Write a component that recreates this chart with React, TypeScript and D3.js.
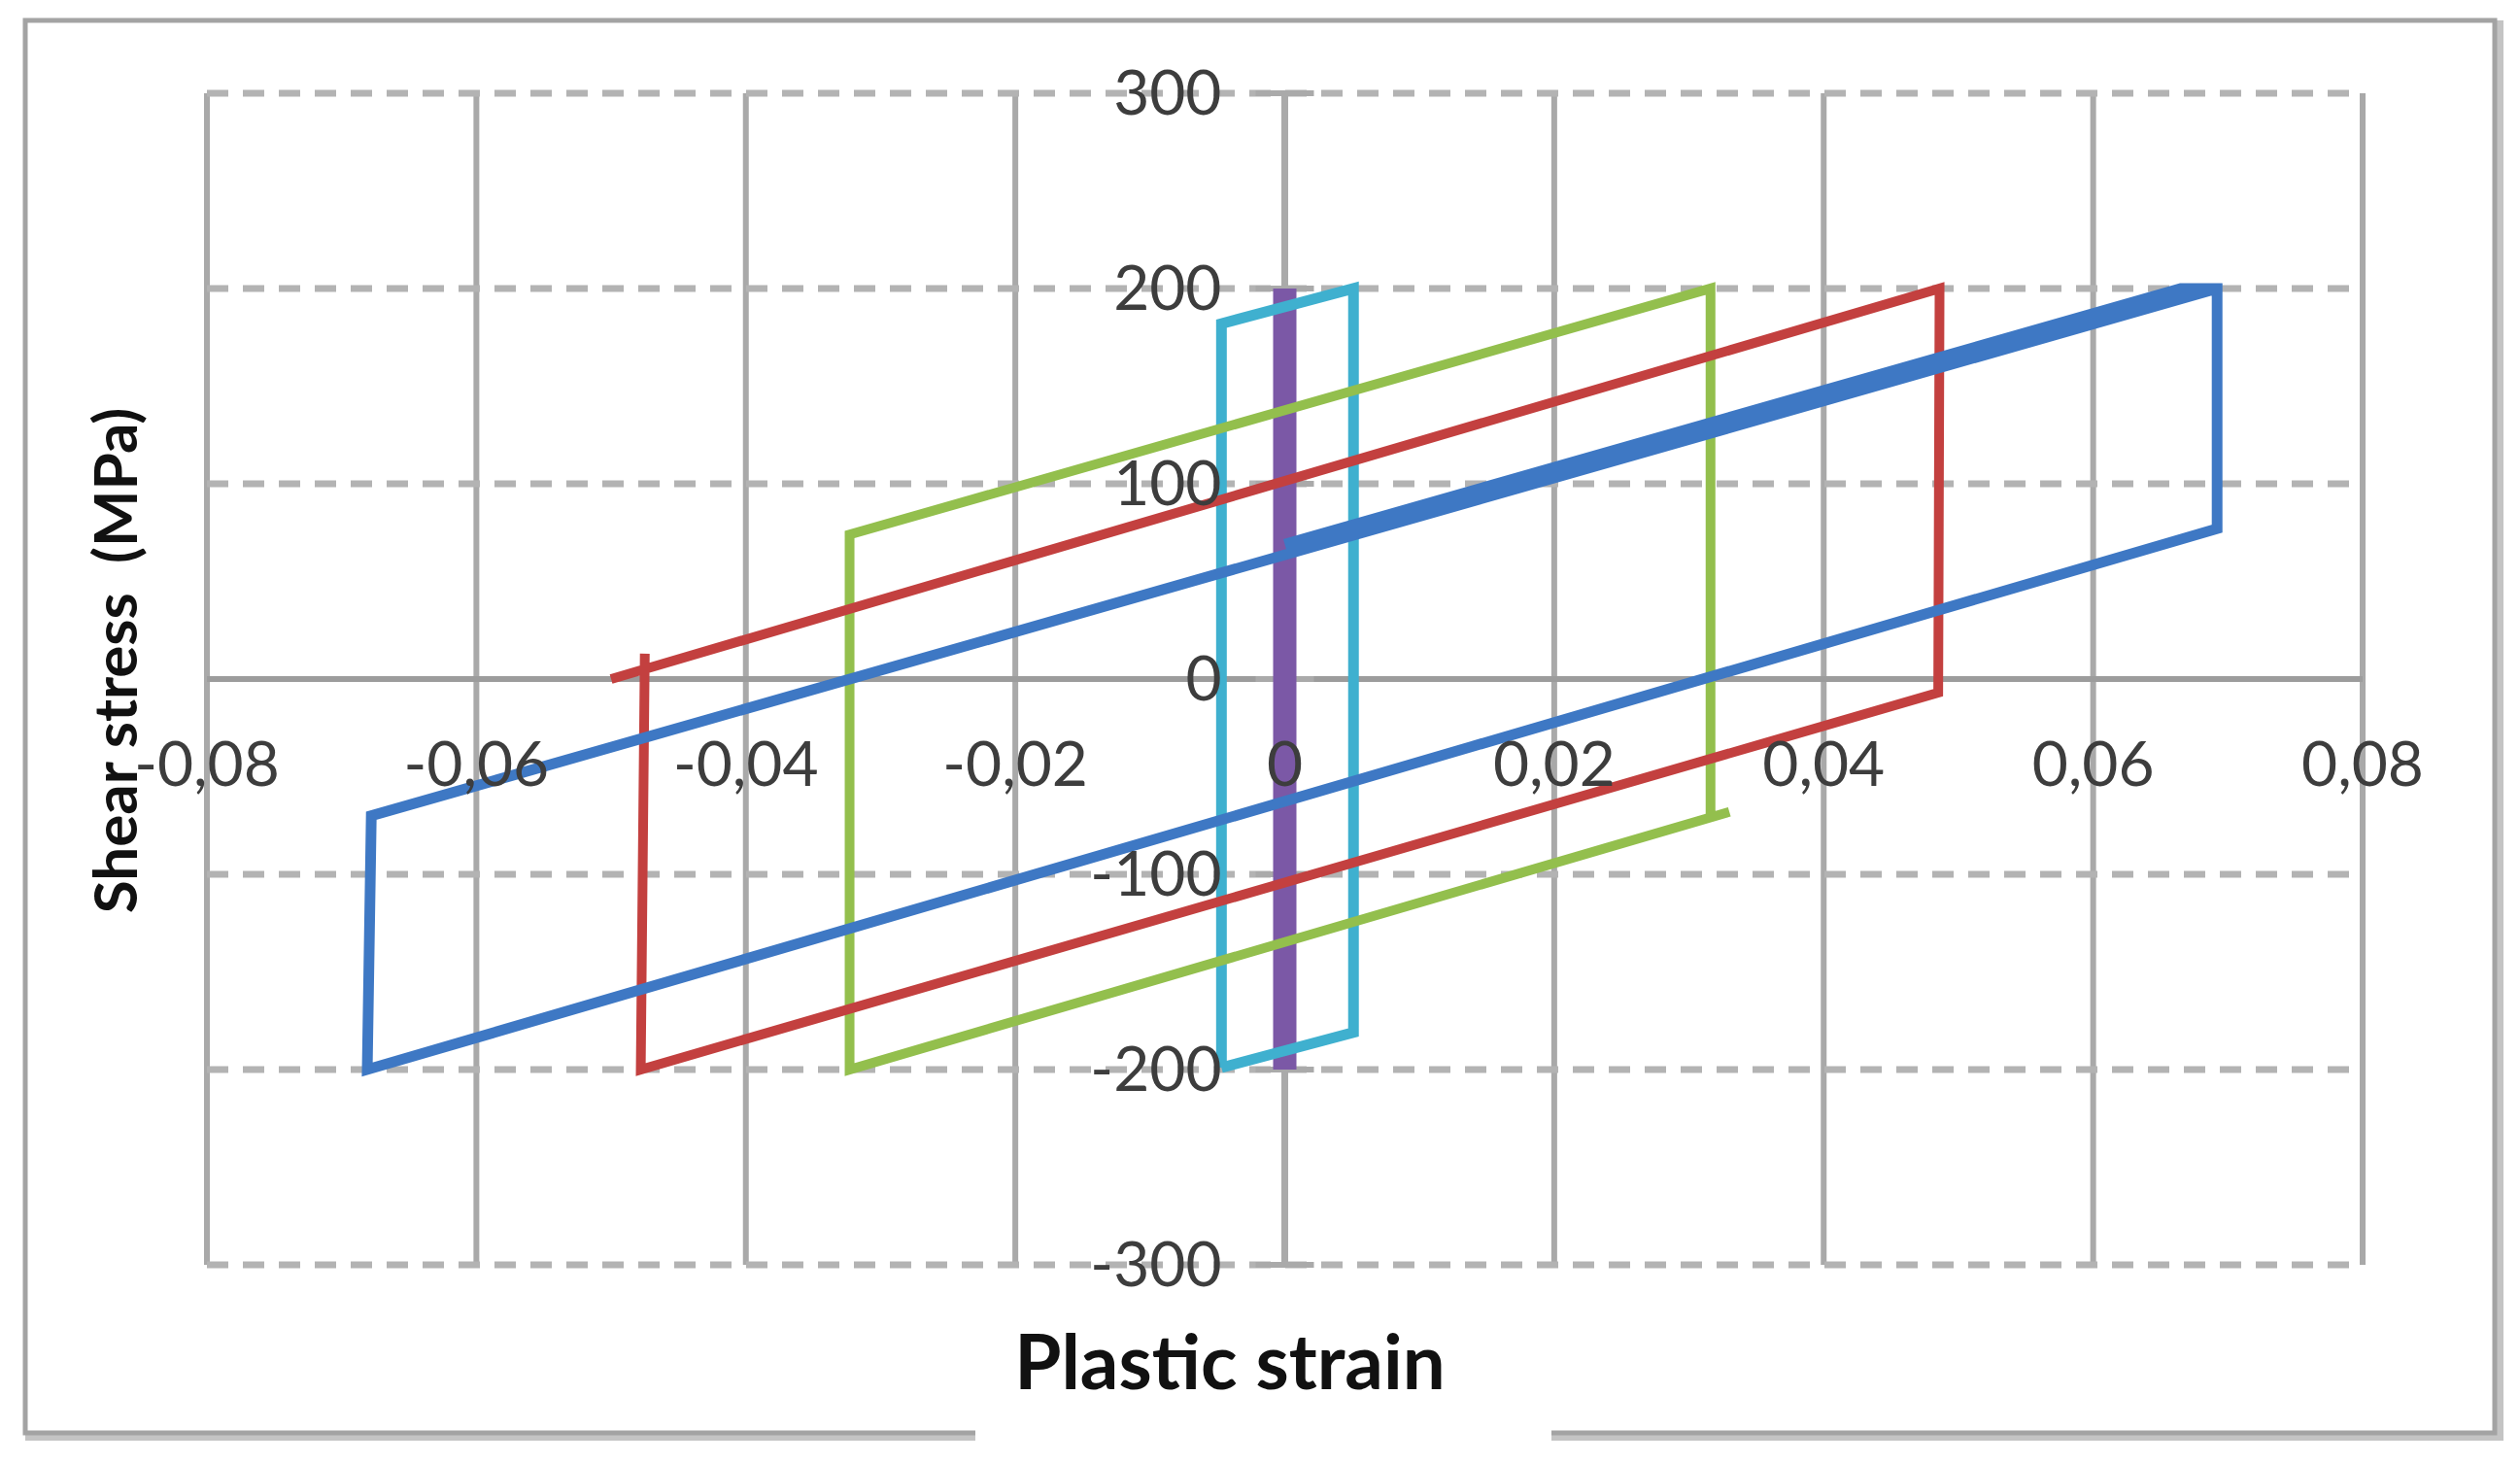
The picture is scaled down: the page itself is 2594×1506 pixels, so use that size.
import React from 'react';
import * as d3 from 'd3';

// strain ticks / stress ticks
const xTicks = [-0.08, -0.06, -0.04, -0.02, 0, 0.02, 0.04, 0.06, 0.08];
const yTicks = [-300, -200, -100, 0, 100, 200, 300];

// hysteresis loops (strain, MPa)
const blueStrain = [0, 0.0665, 0.0692, 0.0692, -0.0681, -0.0678, 0.0692];
const blueStress = [69, 200, 200, 77, -200, -70, 200];

const redStrain = [-0.05, 0.0486, 0.0485, -0.0478, -0.0475];
const redStress = [0, 200, -7, -200, 13];

const greenStrain = [0.033, -0.0323, -0.0323, 0.0316, 0.0316];
const greenStress = [-68, -200, 74, 200, -70];

const cyanStrain = [-0.0047, -0.0047, 0.0051, 0.0051, -0.0047];
const cyanStress = [-199, 182, 200, -181, -199];

const purpleStrain = [0, 0];
const purpleStress = [-200, 200];

const W = 2594;
const H = 1506;
const plot = { left: 213, right: 2432, top: 96, bottom: 1302 };

const zip = (xs: number[], ys: number[]) => xs.map((x, i) => [x, ys[i]] as [number, number]);

const series = [
  { name: 'purple', pts: zip(purpleStrain, purpleStress), color: '#7b58a6', width: 24 },
  { name: 'cyan', pts: zip(cyanStrain, cyanStress), color: '#3fb0cf', width: 11 },
  { name: 'green', pts: zip(greenStrain, greenStress), color: '#93bf4d', width: 10 },
  { name: 'red', pts: zip(redStrain, redStress), color: '#c3403f', width: 10 },
  { name: 'blue', pts: zip(blueStrain, blueStress), color: '#3e78c4', width: 11 },
];

const fmtX = (d: number) => (d === 0 ? '0' : d.toFixed(2).replace('.', ','));

export default function App() {
  const x = d3.scaleLinear().domain([-0.08, 0.08]).range([plot.left, plot.right]);
  const y = d3.scaleLinear().domain([-300, 300]).range([plot.bottom, plot.top]);
  const line = d3.line<[number, number]>().x(d => x(d[0])).y(d => y(d[1]));

  const gridColor = '#a9a9a9';
  const font = 'Lato, "Noto Sans", sans-serif';

  return (
    <svg width={W} height={H} style={{ position: 'absolute', left: 0, top: 0 }}>
      <rect width={W} height={H} fill="#fff" />

      {/* outer frame, bottom edge broken in the middle */}
      <path d="M1597,1478 L2572,1478 L2572,21 M1004,1478 L26,1478" stroke="#c4c4c4" strokeWidth={10} fill="none" />
      <path d="M1004,1475 L26,1475 L26,21 L2568,21 L2568,1475 L1597,1475" stroke="#a3a3a3" strokeWidth={5} fill="none" />

      {/* vertical gridlines */}
      {xTicks.map(t => (
        <line key={'vx' + t} x1={x(t)} x2={x(t)} y1={y(300)} y2={y(-300)} stroke={gridColor} strokeWidth={6} />
      ))}
      {/* horizontal dashed gridlines */}
      {yTicks.filter(t => t !== 0).map(t => (
        <line key={'hy' + t} x1={x(-0.08)} x2={x(0.08)} y1={y(t)} y2={y(t)} stroke="#b3b3b3" strokeWidth={7} strokeDasharray="22 15" />
      ))}
      {/* axes */}
      <line x1={x(-0.08)} x2={x(0.08)} y1={y(0)} y2={y(0)} stroke="#9c9c9c" strokeWidth={6} />
      <line x1={x(0)} x2={x(0)} y1={y(300)} y2={y(-300)} stroke="#aaaaaa" strokeWidth={7} />
      {yTicks.map(t => (
        <line key={'yt' + t} x1={x(0) - 30} x2={x(0) + 30} y1={y(t)} y2={y(t)} stroke="#aaaaaa" strokeWidth={6} />
      ))}

      {/* loops */}
      {series.map(s => (
        <path key={s.name} d={line(s.pts) || ''} fill="none" stroke={s.color} strokeWidth={s.width} strokeLinejoin="miter" />
      ))}

      {/* tick labels */}
      {xTicks.map(t => (
        <text key={'xl' + t} x={x(t)} y={y(0) + 110} textAnchor="middle" fontFamily={font} fontSize={64} fill="#3d3d3d">
          {fmtX(t)}
        </text>
      ))}
      {yTicks.map(t => (
        <text key={'yl' + t} x={x(0) - 65} y={y(t) + 22} textAnchor="end" fontFamily={font} fontSize={64} fill="#3d3d3d">
          {t}
        </text>
      ))}

      {/* axis titles */}
      <text x={1266} y={1430} textAnchor="middle" fontFamily={font} fontWeight="bold" fontSize={78} fill="#111">
        Plastic strain
      </text>
      <text transform="translate(141,680) rotate(-90)" textAnchor="middle" fontFamily={font} fontWeight="bold" fontSize={62} fill="#111" xmlSpace="preserve">
        {'Shear stress  (MPa)'}
      </text>
    </svg>
  );
}
